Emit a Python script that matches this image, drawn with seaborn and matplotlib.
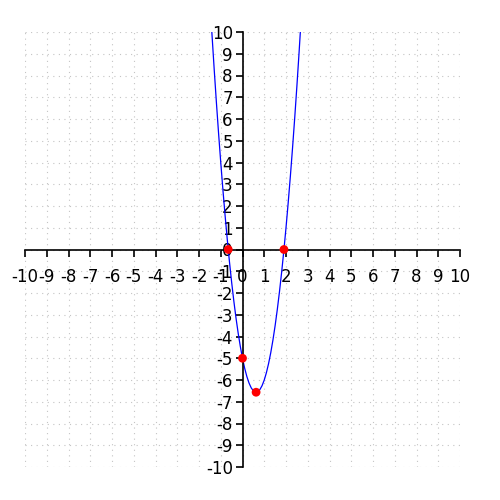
import matplotlib
matplotlib.use("Agg")
import matplotlib.pyplot as plt
import seaborn as sns

# curve y = f(x), step 0.1
curve_x = [-1.5, -1.4, -1.3, -1.2, -1.1, -1.0, -0.9, -0.8, -0.7, -0.6, -0.5, -0.4, -0.3, -0.2, -0.1,
           0.0, 0.1, 0.2, 0.3, 0.4, 0.5, 0.6, 0.7, 0.8, 0.9, 1.0, 1.1, 1.2, 1.3, 1.4, 1.5,
           1.6, 1.7, 1.8, 1.9, 2.0, 2.1, 2.2, 2.3, 2.4, 2.5, 2.6, 2.7]
curve_y = [11.5, 9.84, 8.26, 6.76, 5.34, 4.0, 2.74, 1.56, 0.46, -0.56, -1.5, -2.36, -3.14, -3.84, -4.46,
           -5.0, -5.46, -5.84, -6.14, -6.36, -6.5, -6.56, -6.54, -6.44, -6.26, -6.0, -5.66, -5.24, -4.74, -4.16, -3.5,
           -2.76, -1.94, -1.04, -0.06, 1.0, 2.14, 3.36, 4.66, 6.04, 7.5, 9.04, 10.66]

# marked points: roots, y-intercept, vertex
point_x = [-0.656, 1.906, 0.0, 0.625]
point_y = [0.0, 0.0, -5.0, -6.5625]

ticks = list(range(-10, 11))

sns.set_style("white")
plt.rcParams['font.family'] = ['DejaVu Sans']
plt.rcParams['axes.unicode_minus'] = False

fig = plt.figure(figsize=(5, 5), dpi=100)
ax = fig.add_axes([0.05, 0.066, 0.87, 0.87])

ax.grid(True, color='#c4c4c4', linestyle=(0, (1, 4)), linewidth=0.8)
ax.set_axisbelow(True)

sns.lineplot(x=curve_x, y=curve_y, sort=False, color='blue', linewidth=0.9, ax=ax)
sns.scatterplot(x=point_x, y=point_y, color='red', s=40, edgecolor='none', zorder=5, ax=ax, clip_on=False)

ax.set_xlim(-10, 10)
ax.set_ylim(-10, 10)
ax.set_xticks(ticks)
ax.set_yticks(ticks)

ax.spines['left'].set_position(('data', 0))
ax.spines['bottom'].set_position(('data', 0))
ax.spines['top'].set_visible(False)
ax.spines['right'].set_visible(False)
for s in ['left', 'bottom']:
    ax.spines[s].set_color('black')
    ax.spines[s].set_linewidth(1.2)

ax.tick_params(direction='out', length=5, width=1.2, color='black', labelcolor='black',
               labelsize=12, bottom=True, left=True)
ax.tick_params(axis='x', pad=8)
ax.tick_params(axis='y', pad=2)

plt.savefig("out.png", dpi=100)
